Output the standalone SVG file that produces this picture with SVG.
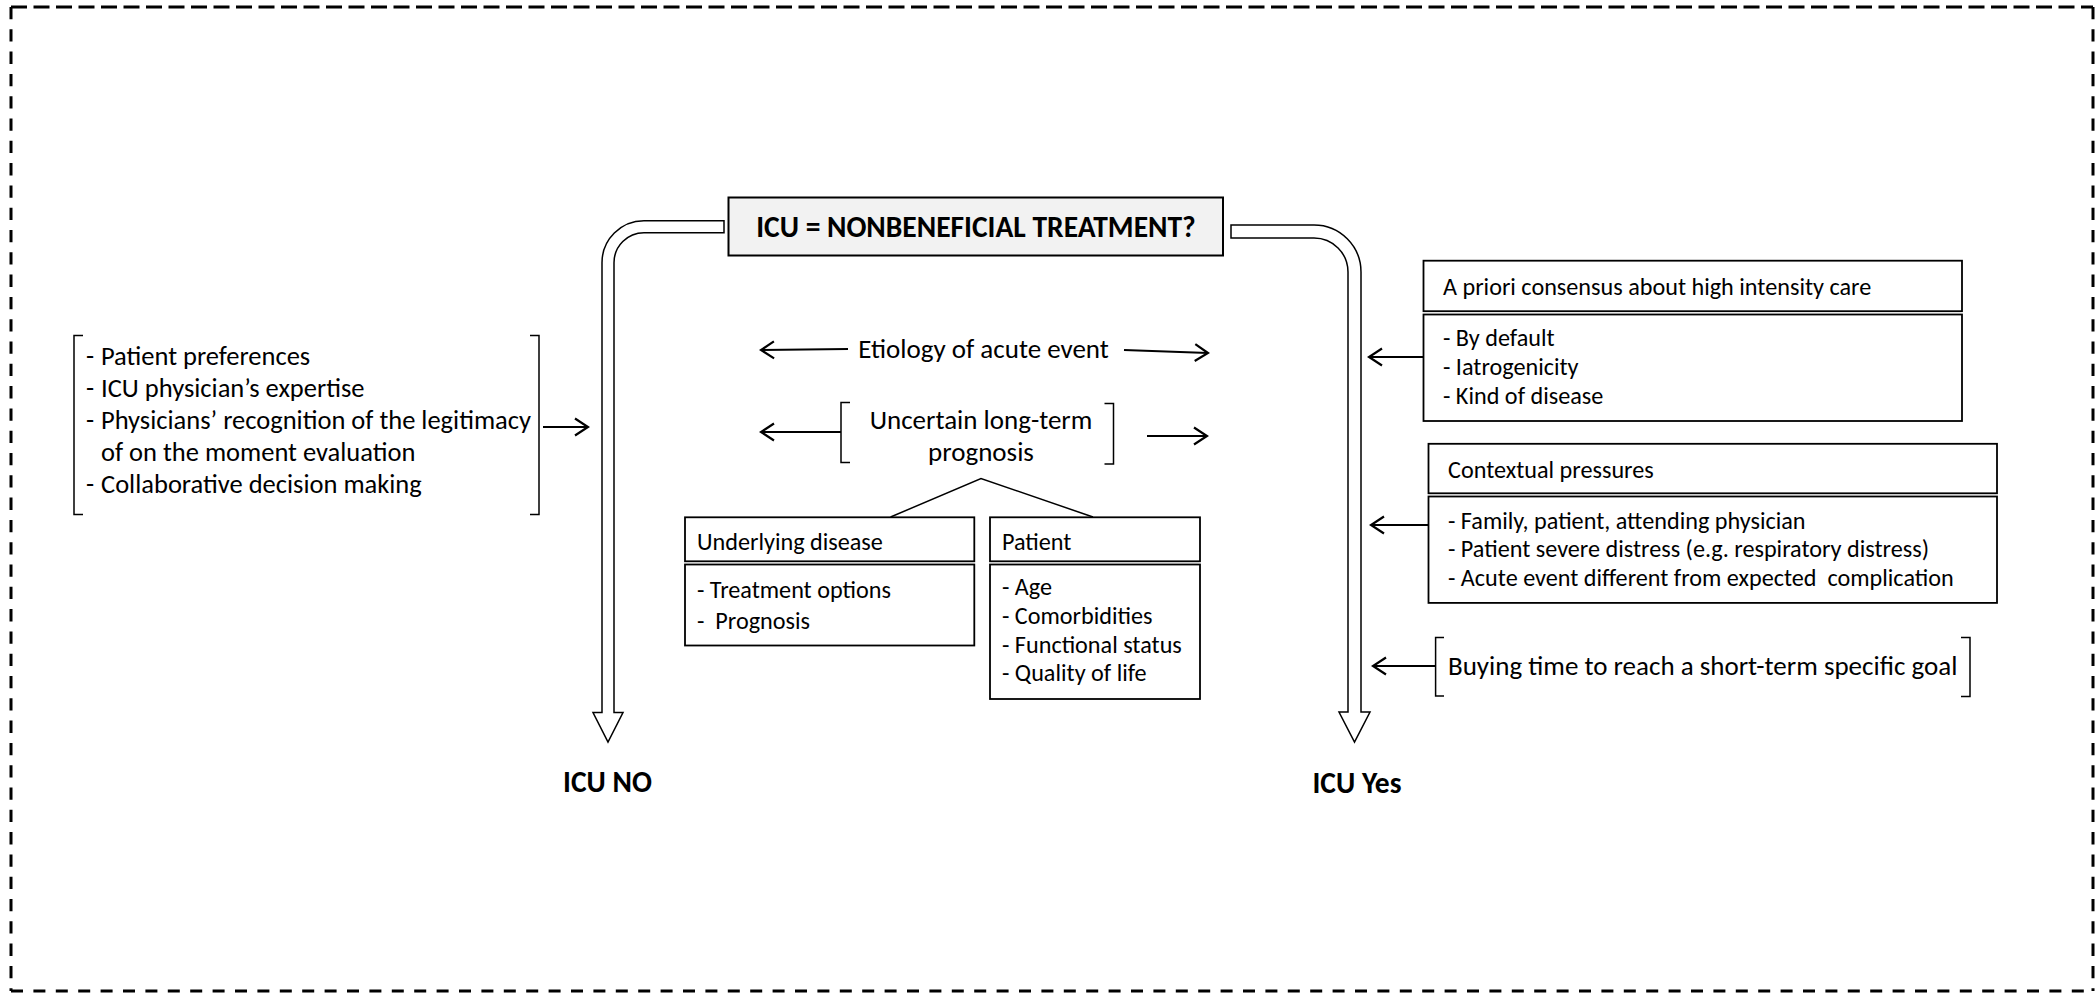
<svg xmlns="http://www.w3.org/2000/svg" width="2096" height="993" viewBox="0 0 2096 993">
  <style>
    text { font-family: Carlito, Lato, "Liberation Sans", sans-serif; fill: #000; }
    .sm { font-size: 24.2px; }
    .md { font-size: 27px; }
    .lf { font-size: 26.5px; }
    .bd { font-size: 29.5px; font-weight: bold; }
    .box { fill: #fff; stroke: #000; stroke-width: 1.8; }
    .title { fill: #f2f2f2; stroke: #000; stroke-width: 2; }
    .brk { fill: none; stroke: #000; stroke-width: 1.5; }
    .band { fill: #fff; stroke: #000; stroke-width: 1.5; stroke-linejoin: miter; }
    .arr { fill: none; stroke: #000; stroke-width: 2; marker-end: url(#ah); }
    .edge { fill: none; stroke: #000; stroke-width: 1.5; }
    .frame { fill: none; stroke: #000; stroke-width: 3; }
  </style>
  <defs>
    <marker id="ah" markerUnits="userSpaceOnUse" markerWidth="16" markerHeight="20" viewBox="0 0 16 20" refX="14" refY="10" orient="auto">
      <path d="M1,1.5 L14,10 L1,18.5" fill="none" stroke="#000" stroke-width="2.2"/>
    </marker>
  </defs>

  <rect width="2096" height="993" fill="#fff"/>

  <!-- dashed outer frame -->
  <g id="frame">
    <line class="frame" x1="11" y1="7" x2="2093" y2="7" stroke-dasharray="16 6.5"/>
    <line class="frame" x1="11" y1="991" x2="2093" y2="991" stroke-dasharray="12 10.4"/>
    <line class="frame" x1="11" y1="7" x2="11" y2="991" stroke-dasharray="12.3 10"/>
    <line class="frame" x1="2093" y1="7" x2="2093" y2="991" stroke-dasharray="12.3 10"/>
  </g>

  <!-- central question -->
  <g id="question">
    <rect class="title" x="728.5" y="197.5" width="494.5" height="58"/>
    <text class="bd" x="976" y="237" text-anchor="middle">ICU = NONBENEFICIAL TREATMENT?</text>
  </g>

  <!-- hollow flow arrows to the two outcomes -->
  <g id="flow-no">
    <path class="band" d="M724,220.7 L644,220.7 A42,42 0 0 0 602,262.7 L602,712.5 L593,712.5 L608,742 L623,712.5 L614,712.5 L614,262.7 A30,30 0 0 1 644,232.7 L724,232.7 Z"/>
  </g>
  <g id="flow-yes">
    <path class="band" d="M1231,225 L1314,225 A47,47 0 0 1 1361,272 L1361,712 L1370,712 L1354.5,742 L1339,712 L1348,712 L1348,272 A34,34 0 0 0 1314,238 L1231,238 Z"/>
  </g>

  <!-- outcomes -->
  <g id="icu-no">
    <text class="bd" x="607.5" y="792" text-anchor="middle">ICU NO</text>
  </g>
  <g id="icu-yes">
    <text class="bd" x="1357" y="792.5" text-anchor="middle">ICU Yes</text>
  </g>

  <!-- factors favouring ICU refusal -->
  <g id="left-factors">
    <path class="brk" d="M83,335.5 L74,335.5 L74,514.6 L83,514.6"/>
    <path class="brk" d="M530,335.5 L539,335.5 L539,514.6 L530,514.6"/>
    <text class="lf" y="365"><tspan x="86">-</tspan><tspan x="101">Patient preferences</tspan></text>
    <text class="lf" y="397"><tspan x="86">-</tspan><tspan x="101">ICU physician’s expertise</tspan></text>
    <text class="lf" y="429"><tspan x="86">-</tspan><tspan x="101" textLength="430" lengthAdjust="spacingAndGlyphs">Physicians’ recognition of the legitimacy</tspan></text>
    <text class="lf" x="101" y="461">of on the moment evaluation</text>
    <text class="lf" y="493"><tspan x="86">-</tspan><tspan x="101">Collaborative decision making</tspan></text>
  </g>

  <!-- shared uncertainties -->
  <g id="etiology">
    <text class="md" x="983.5" y="358" text-anchor="middle">Etiology of acute event</text>
  </g>
  <g id="prognosis">
    <path class="brk" d="M850,402.5 L841,402.5 L841,462.5 L850,462.5"/>
    <path class="brk" d="M1104.5,403.5 L1113.5,403.5 L1113.5,464 L1104.5,464"/>
    <text class="md" x="981" y="429" text-anchor="middle">Uncertain long-term</text>
    <text class="md" x="981" y="461" text-anchor="middle">prognosis</text>
  </g>

  <g id="underlying-disease">
    <rect class="box" x="685" y="517.3" width="289.3" height="44"/>
    <rect class="box" x="685" y="564.5" width="289.3" height="81"/>
    <text class="sm" x="697" y="550">Underlying disease</text>
    <text class="sm" x="697" y="598">- Treatment options</text>
    <text class="sm" x="697" y="629" xml:space="preserve">-  Prognosis</text>
  </g>

  <g id="patient">
    <rect class="box" x="990" y="517.3" width="210" height="44"/>
    <rect class="box" x="990" y="564.5" width="210" height="134.5"/>
    <text class="sm" x="1002" y="550">Patient</text>
    <text class="sm" x="1002" y="595">- Age</text>
    <text class="sm" x="1002" y="624">- Comorbidities</text>
    <text class="sm" x="1002" y="653">- Functional status</text>
    <text class="sm" x="1002" y="681">- Quality of life</text>
  </g>

  <!-- factors favouring ICU admission -->
  <g id="consensus">
    <rect class="box" x="1423.5" y="260.7" width="538.5" height="50.5"/>
    <rect class="box" x="1423.5" y="314.5" width="538.5" height="106.5"/>
    <text class="sm" x="1443" y="295">A priori consensus about high intensity care</text>
    <text class="sm" x="1443" y="346">- By default</text>
    <text class="sm" x="1443" y="375">- Iatrogenicity</text>
    <text class="sm" x="1443" y="404">- Kind of disease</text>
  </g>

  <g id="contextual">
    <rect class="box" x="1428.5" y="443.8" width="568.5" height="49.5"/>
    <rect class="box" x="1428.5" y="496.5" width="568.5" height="106.4"/>
    <text class="sm" x="1448" y="478">Contextual pressures</text>
    <text class="sm" x="1448" y="529">- Family, patient, attending physician</text>
    <text class="sm" x="1448" y="557">- Patient severe distress (e.g. respiratory distress)</text>
    <text class="sm" x="1448" y="586" xml:space="preserve">- Acute event different from expected  complication</text>
  </g>

  <g id="buying-time">
    <path class="brk" d="M1444,637.6 L1435.6,637.6 L1435.6,696 L1444,696"/>
    <path class="brk" d="M1961,637.6 L1970,637.6 L1970,696.4 L1961,696.4"/>
    <text class="md" x="1448" y="675">Buying time to reach a short-term specific goal</text>
  </g>

  <!-- connectors -->
  <g id="connectors">
    <line class="arr" x1="543" y1="427" x2="588" y2="427"/>
    <line class="arr" x1="848" y1="349" x2="761" y2="350"/>
    <line class="arr" x1="1124" y1="350" x2="1208" y2="353"/>
    <line class="arr" x1="841" y1="432" x2="761" y2="432"/>
    <line class="arr" x1="1147" y1="436" x2="1207" y2="436"/>
    <polyline class="edge" points="890.6,517 981,478.5 1093,517"/>
    <line class="arr" x1="1423" y1="357" x2="1369" y2="357"/>
    <line class="arr" x1="1428" y1="525" x2="1371" y2="525"/>
    <line class="arr" x1="1435.6" y1="666" x2="1373" y2="666"/>
  </g>
</svg>
